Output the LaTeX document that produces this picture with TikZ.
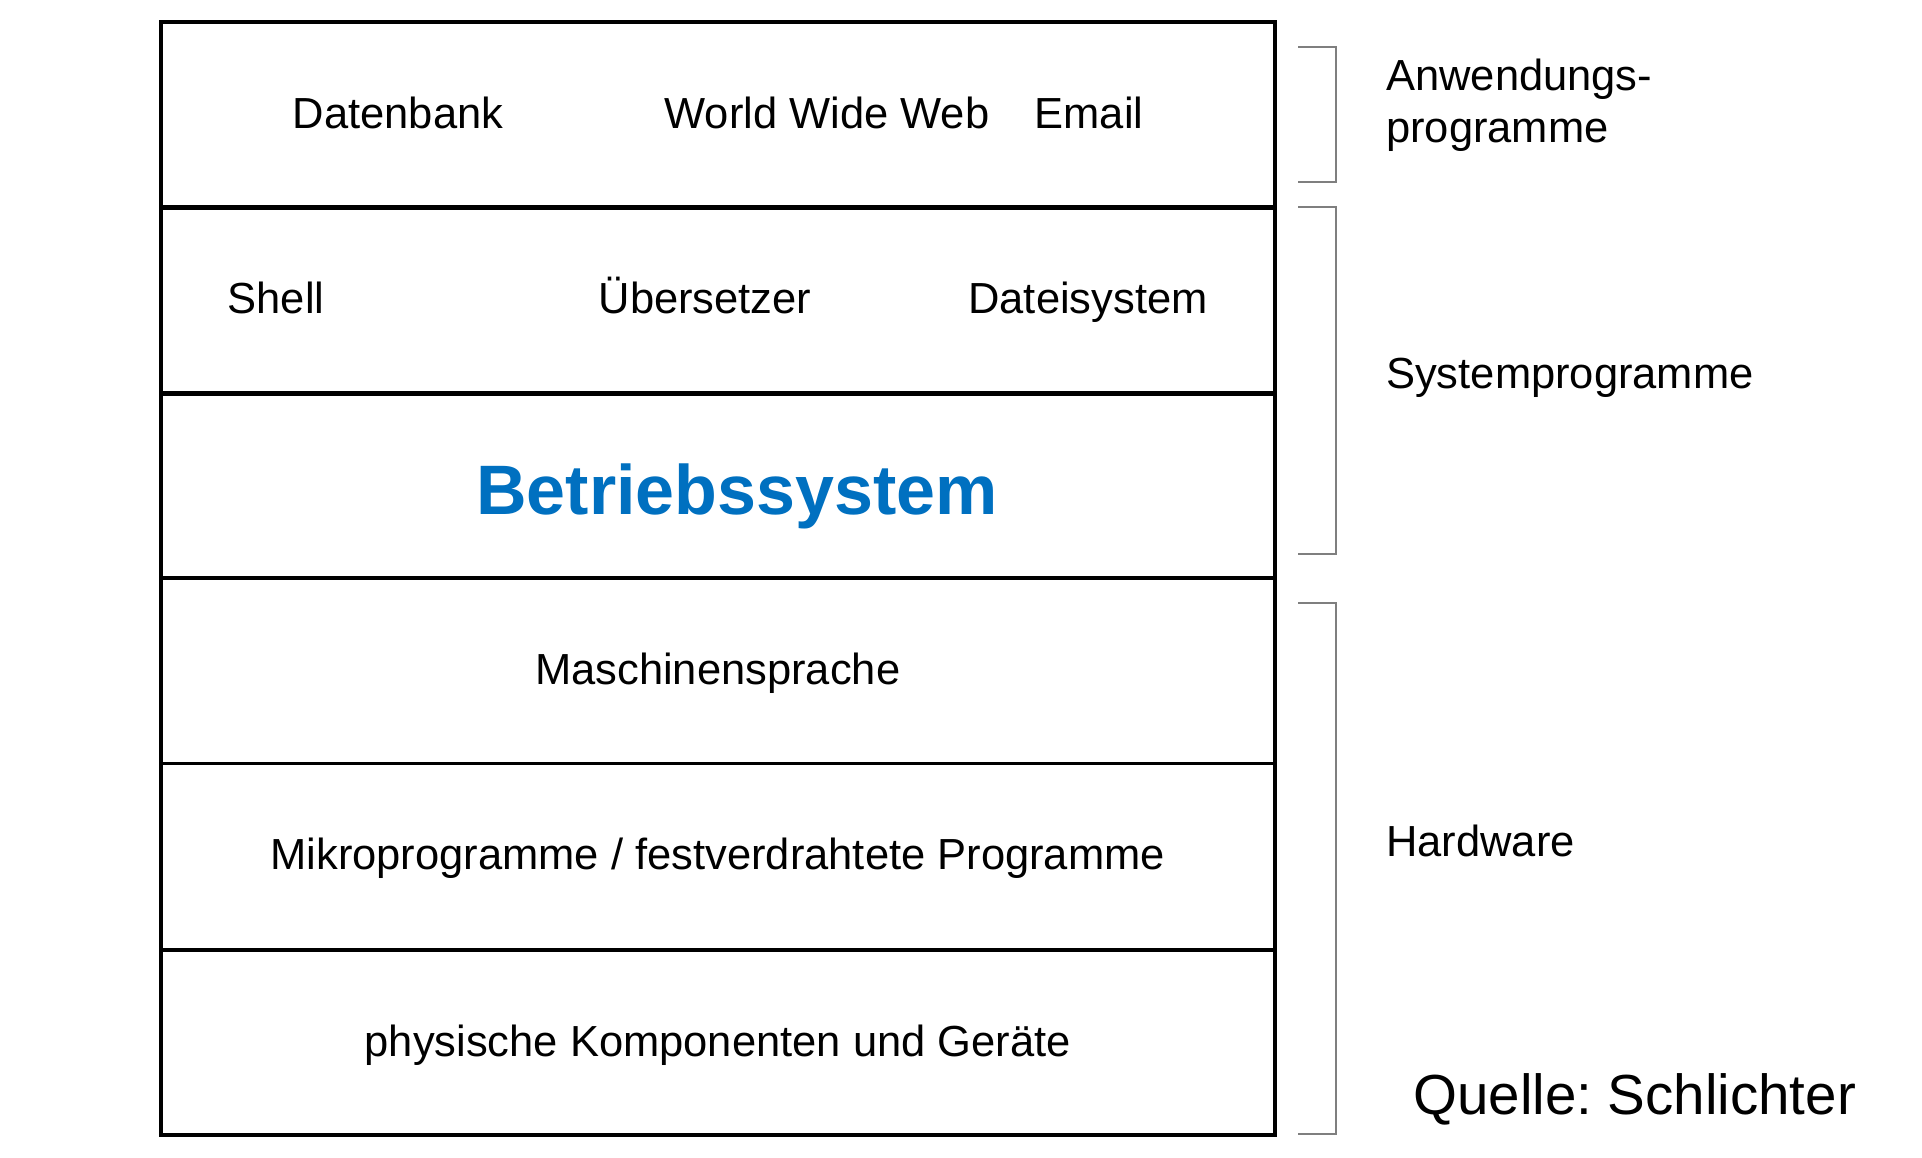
\documentclass[tikz,border=0pt]{standalone}
\usepackage{fontspec}
\setmainfont{Liberation Sans}
\frenchspacing
\definecolor{osblue}{HTML}{0070C0}
\definecolor{brgray}{HTML}{7F7F7F}
\begin{document}
\begin{tikzpicture}[x=1pt,y=-1pt,
  lbl/.style={font=\fontsize{43.5}{52}\selectfont, anchor=base, inner sep=0pt},
  side/.style={lbl, anchor=base west},
  frame/.style={line width=3.6pt, line cap=rect},
  heavy/.style={line width=4.5pt},
  light/.style={line width=3.1pt},
  bracket/.style={draw=brgray, line width=1.6pt}]
\useasboundingbox (0,0) rectangle (1922,1157);
\fill[white] (0,0) rectangle (1922,1157);

% layer dividers
\coordinate (L1) at (160.6,207.5);  \coordinate (R1) at (1274.8,207.5);
\coordinate (L2) at (160.6,393.5);  \coordinate (R2) at (1274.8,393.5);
\coordinate (L3) at (160.6,578.0);  \coordinate (R3) at (1274.8,578.0);
\coordinate (L4) at (160.6,763.5);  \coordinate (R4) at (1274.8,763.5);
\coordinate (L5) at (160.6,950.0);  \coordinate (R5) at (1274.8,950.0);
\draw[light] (L4) -- (R4);
\draw[light] (L5) -- (R5);
\draw[heavy] (L1) -- (R1);
\draw[heavy] (L2) -- (R2);
\draw[heavy] (L3) -- (R3);
\draw[frame] (161,22) rectangle (1274.8,1135);

% layer texts
\node[lbl] (db)   at (398,128)   {Datenbank};
\node[lbl] (www)  at (827,128)   {World Wide Web};
\node[lbl] (mail) at (1089,128)  {Email};
\node[lbl] (sh)   at (276,313)   {Shell};
\node[lbl] (ue)   at (705,313)   {Übersetzer};
\node[lbl] (fs)   at (1088,313)  {Dateisystem};
\node[lbl, font=\fontsize{70}{80}\selectfont\bfseries, text=osblue] (bs) at (737,514) {Betriebssystem};
\node[lbl] (ms)   at (717.7,684) {Maschinensprache};
\node[lbl] (mp)   at (717.7,869) {Mikroprogramme / festverdrahtete Programme};
\node[lbl] (pk)   at (717.7,1056) {physische Komponenten und Geräte};

% brackets
\draw[bracket] (1298,46.7) -- (1336,46.7) -- (1336,182) -- (1298,182);
\draw[bracket] (1298,207) -- (1336,207) -- (1336,554) -- (1298,554);
\draw[bracket] (1298,603) -- (1336,603) -- (1336,1134) -- (1298,1134);

% side labels
\node[side] (anw1) at (1386,90)  {Anwendungs-};
\node[side] (anw2) at (1386,142) {programme};
\node[side] (sys)  at (1386,388) {Systemprogramme};
\node[side] (hw)   at (1386,856) {Hardware};
\node[side, font=\fontsize{56.5}{64}\selectfont] (src) at (1413,1114) {Quelle: Schlichter};
\end{tikzpicture}
\end{document}
